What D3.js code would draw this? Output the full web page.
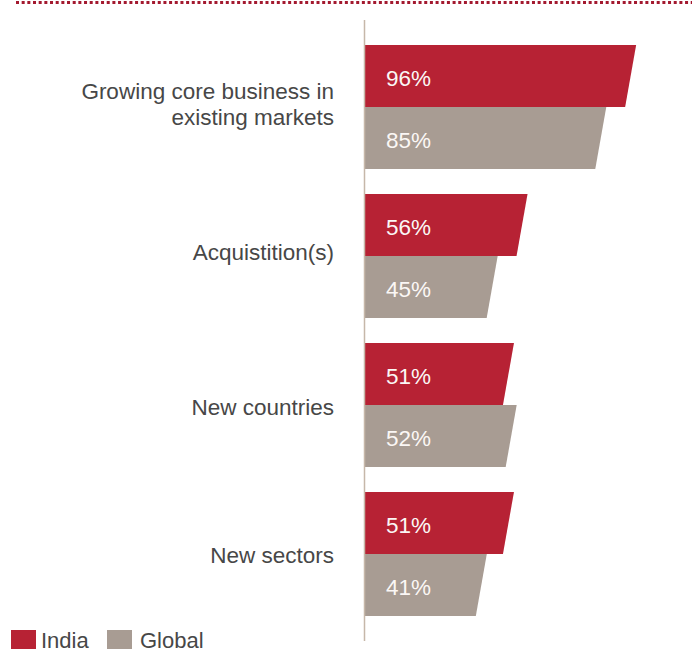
<!DOCTYPE html>
<html>
<head>
<meta charset="utf-8">
<script src="https://cdn.jsdelivr.net/npm/d3@7"></script>
<style>
  html, body { margin: 0; padding: 0; background: #fff; }
  svg { display: block; }
</style>
</head>
<body>
<svg id="chart" width="692" height="649"></svg>
<script>
const categories = [
  ["Growing core business in", "existing markets"],
  ["Acquistition(s)"],
  ["New countries"],
  ["New sectors"]
];
const series = ["India", "Global"];
const indiaValues = [96, 56, 51, 51];
const globalValues = [85, 45, 52, 41];
const colors = { India: "#b72234", Global: "#a89c93" };

const svg = d3.select("#chart");
const font = "'Liberation Sans', Arial, Helvetica, sans-serif";

const catKeys = categories.map(c => c.join(" "));
const y = d3.scaleBand().domain(catKeys).range([45, 616]).paddingInner(0.168).paddingOuter(0);
const ySub = d3.scaleBand().domain(series).range([0, y.bandwidth()]).padding(0);
const x = d3.scaleLinear().domain([0, 100]).range([364.5, 636]);
const slant = 11;

// top dotted rule
svg.append("line")
  .attr("x1", 16).attr("x2", 692).attr("y1", 2.5).attr("y2", 2.5)
  .attr("stroke", "#a3192f").attr("stroke-width", 3)
  .attr("stroke-dasharray", "3 2.67");

const data = [];
catKeys.forEach((k, i) => {
  data.push({ cat: k, s: "India", v: indiaValues[i] });
  data.push({ cat: k, s: "Global", v: globalValues[i] });
});

const bars = svg.append("g");
bars.selectAll("path").data(data).enter().append("path")
  .attr("d", d => {
    const y0 = y(d.cat) + ySub(d.s);
    const h = ySub.bandwidth();
    const x0 = x(0), x1 = x(d.v);
    return `M${x0},${y0}L${x1 + slant},${y0}L${x1},${y0 + h}L${x0},${y0 + h}Z`;
  })
  .attr("fill", d => colors[d.s]);

bars.selectAll("text").data(data).enter().append("text")
  .attr("x", 386)
  .attr("y", d => y(d.cat) + ySub(d.s) + ySub.bandwidth() / 2 + 10)
  .attr("fill", "#fbf7f5")
  .attr("font-family", font)
  .attr("font-size", 22.5)
  .text(d => d.v + "%");

// vertical axis line
svg.append("line")
  .attr("x1", 364.5).attr("x2", 364.5).attr("y1", 20).attr("y2", 641)
  .attr("stroke", "#c6b7a9").attr("stroke-width", 1.5);

// category labels
const labelShift = [5, 4, 10, 9];
const labels = svg.append("g");
categories.forEach((lines, i) => {
  const cy = y(catKeys[i]) + y.bandwidth() / 2 + labelShift[i];
  const t = labels.append("text")
    .attr("x", 334)
    .attr("text-anchor", "end")
    .attr("fill", "#474747")
    .attr("font-family", font)
    .attr("font-size", 22.5);
  lines.forEach((ln, j) => {
    t.append("tspan")
      .attr("x", 334)
      .attr("y", cy + (j - (lines.length - 1) / 2) * 26)
      .text(ln);
  });
});

// legend
const legendItems = [
  { s: "India", sx: 11, tx: 41 },
  { s: "Global", sx: 107, tx: 140 }
];
const lg = svg.append("g");
legendItems.forEach(it => {
  lg.append("rect").attr("x", it.sx).attr("y", 630).attr("width", 25).attr("height", 25)
    .attr("fill", colors[it.s]);
  lg.append("text").attr("x", it.tx).attr("y", 648)
    .attr("fill", "#474747").attr("font-family", font).attr("font-size", 22)
    .text(it.s);
});
</script>
</body>
</html>
